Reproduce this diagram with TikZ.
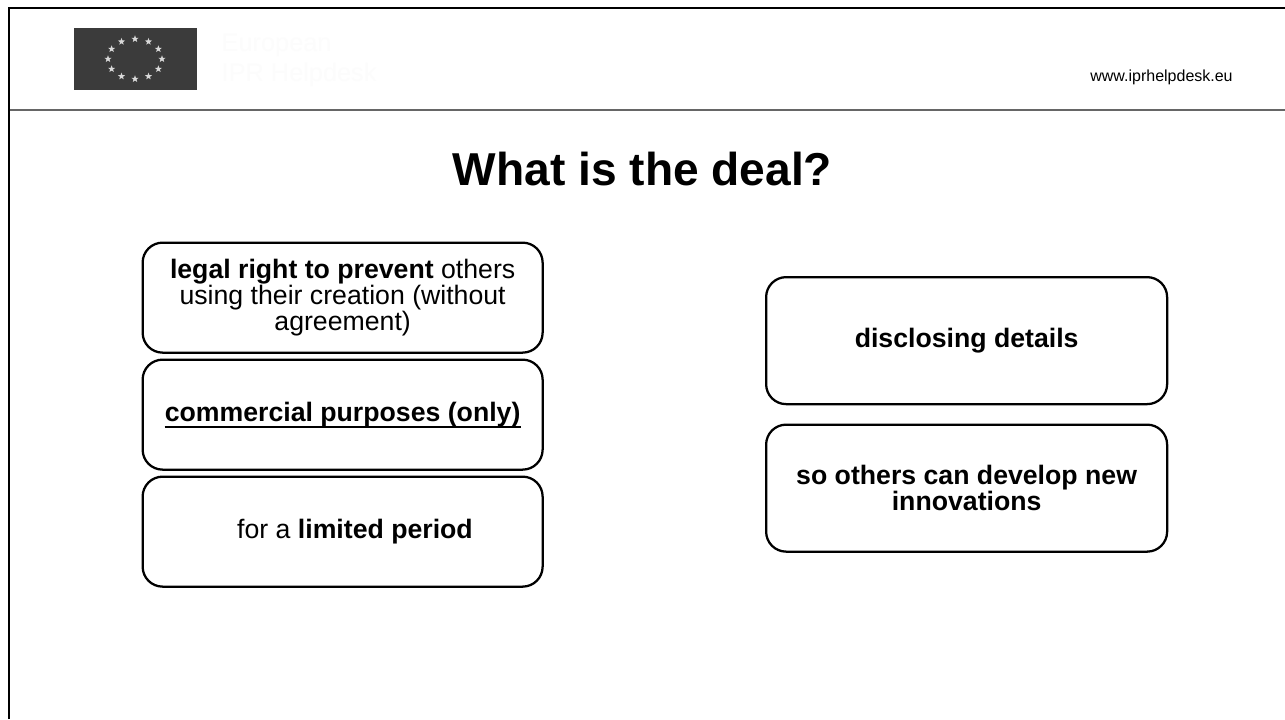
\documentclass[tikz,border=0pt]{standalone}
\usepackage{fontspec}
\setmainfont{Liberation Sans}
\usetikzlibrary{shapes.geometric}
\tikzset{
  px/.style={x=0.75pt,y=-0.75pt},
  card/.style={draw=black,line width=1.7pt,rounded corners=15pt,fill=white,anchor=north west,inner sep=0pt,align=center,font=\fontsize{20}{18.5}\selectfont},
  frameline/.style={draw=black,line width=2.2pt},
  headline/.style={draw=black!60,line width=0.9pt},
  staricon/.style={star,star points=5,star point ratio=2.4,fill=white!85!black,inner sep=0pt,minimum size=5.6pt,draw=none}
}
\begin{document}
\begin{tikzpicture}[px]
\useasboundingbox (0,0) rectangle (1285,719);
\fill[white] (0,0) rectangle (1285,719);
\coordinate (fa) at (9,719); \coordinate (fb) at (9,8); \coordinate (fc) at (1285,8);
\draw[frameline] (fa) -- (fb) -- (fc);
\coordinate (ha) at (10,110); \coordinate (hb) at (1285,110);
\draw[headline] (ha) -- (hb);
\fill[black!77] (74,28) rectangle (196.5,89.5);
\foreach \a in {0,30,...,330}
  \node[staricon] at ({135+27*cos(\a)},{59-20*sin(\a)}) {};
\node[text=black!1,anchor=west,font=\fontsize{19}{22.5}\selectfont,align=left] (org) at (217,60) {European\\IPR Helpdesk};
\node[anchor=center,font=\fontsize{12}{12}\selectfont] (url) at (1161.5,77) {www.iprhelpdesk.eu};
\node[font=\bfseries\fontsize{34.6}{36}\selectfont] (title) at (642.5,169) {What is the deal?};
\node[card,minimum width=400pt*0.75,minimum height=110pt*0.75] (a) at (141.5,241.5) {\textbf{legal right to prevent} others\\using their creation (without\\agreement)};
\node[card,minimum width=400pt*0.75,minimum height=110pt*0.75] (b) at (141.5,358.5) {\textbf{commercial purposes (only)}};
\node[card,minimum width=400pt*0.75,minimum height=110pt*0.75] (c) at (141.5,475.5) {\hspace{18.5pt}for a \textbf{limited period}};
\node[card,minimum width=401pt*0.75,minimum height=127pt*0.75] (d) at (765,276) {\textbf{disclosing details}};
\node[card,minimum width=401pt*0.75,minimum height=127pt*0.75] (e) at (765,423.5) {\textbf{so others can develop new}\\\textbf{innovations}};
\draw[line width=1.7pt] (b.center) ++(-178,12) coordinate (ua) -- ++(356,0) coordinate (ub);
\end{tikzpicture}
\end{document}
